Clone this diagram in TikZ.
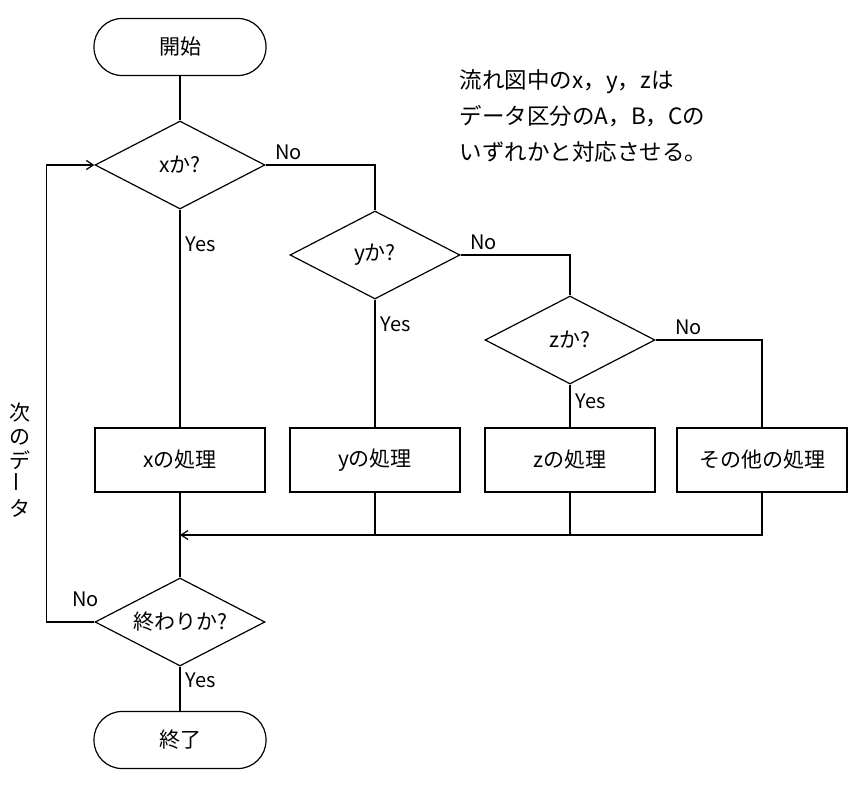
\documentclass[tikz,border=0pt]{standalone}
\usepackage{fontspec}
\setmainfont{Noto Sans CJK JP}
\usetikzlibrary{shapes.geometric, arrows.meta}
\begin{document}
\begin{tikzpicture}[x=1pt, y=-1pt, font=\fontsize{21pt}{26pt}\selectfont, line width=1.2pt,
        >={Straight Barb[length=7pt, width=9pt]},
        term/.style={draw, rounded corners=28pt, minimum width=172pt, minimum height=57pt},
        test/.style={draw, diamond, aspect=1.93, inner sep=0pt, minimum width=170pt, minimum height=88pt},
        proc/.style={draw, minimum width=170pt, minimum height=64pt},
        lbl/.style={font=\fontsize{20pt}{24pt}\selectfont, inner sep=5pt}]
        \useasboundingbox (0,0) rectangle (868,787);
        \path (180, 47)  node[term] (start) {開始};
        \path (180, 165) node[test] (dx) {xか?};
        \path (375, 255) node[test] (dy) {yか?};
        \path (570, 340) node[test] (dz) {zか?};
        \path (180, 460) node[proc] (bx) {xの処理};
        \path (375, 460) node[proc] (by) {yの処理};
        \path (570, 460) node[proc] (bz) {zの処理};
        \path (762, 460) node[proc] (bo) {その他の処理};
        \path (180, 622) node[test] (de) {終わりか?};
        \path (180, 740) node[term] (stop) {終了};
        \path (180, 535) coordinate (m);
        \path (456, 116) node[anchor=west, align=left, font=\fontsize{22.5pt}{36pt}\selectfont] (note)
            {流れ図中のx，y，zは\\データ区分のA，B，Cの\\いずれかと対応させる。};
        \path (20, 460) node[align=center, font=\fontsize{21pt}{24pt}\selectfont] (next)
            {次\\の\\デ\\\rotatebox{90}{ー}\\タ};
        
        \draw (start) -- (dx);
        \draw (dx.east) -| node[pos=0, lbl, anchor=south west, xshift=4pt] {No} (dy.north);
        \draw (dy.east) -| node[pos=0, lbl, anchor=south west, xshift=4pt] {No} (dz.north);
        \draw (dz.east) -| node[pos=0, lbl, anchor=south west, xshift=14pt] {No} (bo.north);
        
        \draw (dx) -- node[pos=0.16, lbl, right] {Yes} (bx);
        \draw (dy) -- node[pos=0.19, lbl, right] {Yes} (by);
        \draw (dz) -- node[pos=0.4, lbl, right] {Yes} (bz);
        
        \draw[->] (bo.south) |- (m);
        \draw (bz.south) |- (m);
        \draw (by.south) |- (m);
        \draw (bx) -- (de);
        
        \draw[->] (de.west) node[lbl, anchor=south east, xshift=10pt, yshift=10pt] {No} -- ++(-48,0) |- (dx.west);
        \draw (de) -- node[pos=0.32, lbl, right] {Yes} (stop);
    \end{tikzpicture}
\end{document}
